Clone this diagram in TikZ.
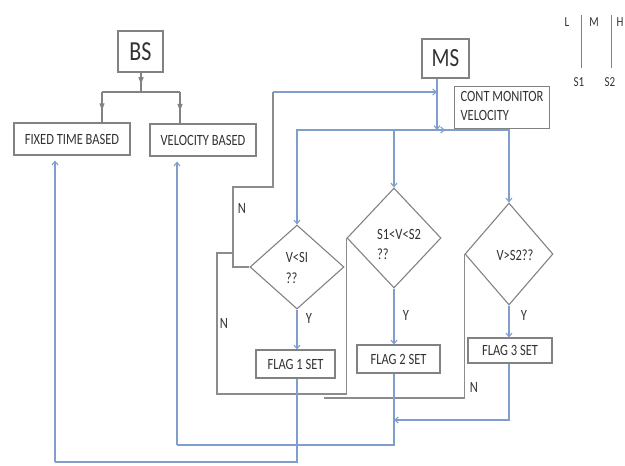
\documentclass[tikz,border=0pt]{standalone}
\usepackage{fontspec}
\setmainfont{Carlito}
\usetikzlibrary{shapes.geometric,arrows.meta,decorations.markings}
\newcommand{\vt}[1]{\scalebox{1}[1.25]{#1}}
\definecolor{flowc}{RGB}{128,158,204}
\definecolor{boxc}{RGB}{130,130,130}
\definecolor{loopc}{RGB}{140,140,140}
\definecolor{txtc}{RGB}{50,50,50}
\begin{document}
\begin{tikzpicture}[x=1pt,y=-1pt,
  box/.style={draw=boxc, line width=1.1pt, inner sep=0pt, text=txtc, font=\fontsize{12.5}{15}\selectfont},
  dia/.style={diamond, draw=boxc, line width=1.1pt, inner sep=0pt, text=txtc, font=\fontsize{12.5}{15}\selectfont},
  lbl/.style={inner sep=0pt, text=txtc, font=\fontsize{12.5}{15}\selectfont},
  flow/.style={draw=flowc, line width=1.1pt},
  nline/.style={draw=loopc, line width=1.1pt},
  gline/.style={draw=boxc, line width=1.1pt},
  arr/.style={-{Straight Barb[length=3.5pt,width=6pt]}},
  midarrow/.style={postaction={decorate}, decoration={markings, mark=at position 0.6 with {\arrow{Triangle[open,length=7pt,width=5pt]}}}}
]
\useasboundingbox (0,0) rectangle (625,466);

% ---- BS part
\node[box, minimum width=45pt, minimum height=41pt, font=\fontsize{22}{26}\selectfont] (BS) at (140.5,51.5) {\vt{BS}};
\node[box, minimum width=116pt, minimum height=32pt] (FIX) at (72,139) {\vt{FIXED TIME BASED}};
\node[box, minimum width=106pt, minimum height=32pt] (VEL) at (203,140) {\vt{VELOCITY BASED}};
\coordinate (bj) at (141,92);
\coordinate (bl) at (102,92);
\coordinate (br) at (180,92);
\draw[gline, midarrow] (BS.south -| bj) -- (bj);
\draw[gline] (bl) -- (br);
\draw[gline, midarrow] (bl) -- (bl |- FIX.north);
\draw[gline, midarrow] (br) -- (br |- VEL.north);

% ---- MS part
\node[box, minimum width=47pt, minimum height=39pt, font=\fontsize{21}{25}\selectfont] (MS) at (445.5,58.5) {\vt{MS}};
\node[box, minimum width=95pt, minimum height=35pt, align=left, inner sep=2pt] (CM) at (502,107.5)
  {\vt{\begin{tabular}{@{}l@{}}CONT MONITOR\\VELOCITY\end{tabular}}};
\coordinate (j) at (437,130);
\coordinate (mj) at (437,92);
\draw[flow, arr] (MS.south -| j) -- (j);
\draw[flow, arr] (j) -- ++(8,0);

% ---- diamonds
\node[dia, minimum width=94pt, minimum height=84pt] (D1) at (297,267) {};
\node[lbl, align=left] (D1t) at (297,269) {\vt{\begin{tabular}{@{}l@{}}V<SI\\[2pt]??\end{tabular}}};
\node[dia, minimum width=94pt, minimum height=100pt] (D2) at (394,238) {};
\node[lbl, align=left] (D2t) at (399,246) {\vt{\begin{tabular}{@{}l@{}}S1<V<S2\\[1pt]??\end{tabular}}};
\node[dia, minimum width=88pt, minimum height=102pt] (D3) at (509,254) {};
\node[lbl] (D3t) at (515,255) {\vt{V>S2??}};

\draw[flow] (D1.north |- j) -- (D3.north |- j);
\draw[flow, arr] (j) -| (D1.north);
\draw[flow, arr] (D2.north |- j) -- (D2.north);
\draw[flow, arr] (j) -| (D3.north);

% ---- flags
\node[box, minimum width=79pt, minimum height=28pt] (F1) at (295.5,364) {\vt{FLAG 1 SET}};
\node[box, minimum width=83pt, minimum height=28pt] (F2) at (398.5,359) {\vt{FLAG 2 SET}};
\node[box, minimum width=84pt, minimum height=25pt] (F3) at (510,350.5) {\vt{FLAG 3 SET}};

\draw[flow, arr] (D1.south) -- (D1.south |- F1.north);
\draw[flow, arr] (D2.south) -- (D2.south |- F2.north);
\draw[flow, arr] (D3.south) -- (D3.south |- F3.north);
\node[lbl] (Y1) at (309,318) {\vt{Y}};
\node[lbl] (Y2) at (406,315) {\vt{Y}};
\node[lbl] (Y3) at (524,315) {\vt{Y}};

% ---- N loops
\coordinate (k1) at (233,187);
\coordinate (k2) at (273,92);
\coordinate (k3) at (217,394);
\coordinate (k4) at (233,253);
\coordinate (k5) at (324,398);
\draw[nline] (D1.west) -| (k1) -| (k2);
\draw[flow, arr] (k2) -- (mj);
\draw[nline] (D2.west) |- (k3) |- (k4);
\draw[nline] (D3.west) |- (k5);
\node[lbl] (N1) at (242,208) {\vt{N}};
\node[lbl] (N2) at (224,323) {\vt{N}};
\node[lbl] (N3) at (474,387) {\vt{N}};

% ---- flag outputs
\coordinate (k6) at (55,462);
\coordinate (k7) at (177,445);
\coordinate (k8) at (394,420);
\draw[flow] (D1.south |- F1.south) |- (k6);
\draw[flow, arr, shorten >=5pt] (k6) -- (k6 |- FIX.south);
\draw[flow] (D2.south |- F2.south) |- (k7);
\draw[flow, arr, shorten >=5pt] (k7) -- (k7 |- VEL.south);
\draw[flow, arr] (D3.south |- F3.south) |- (k8);

% ---- legend
\node[lbl, font=\fontsize{11}{13}\selectfont] (L) at (567,22) {\vt{L}};
\node[lbl, font=\fontsize{11}{13}\selectfont] (M) at (594,22) {\vt{M}};
\node[lbl, font=\fontsize{11}{13}\selectfont, anchor=west] (H) at (616.5,22) {\vt{H}};
\coordinate (l1t) at (581,15);
\coordinate (l1b) at (581,68);
\coordinate (l2t) at (611,15);
\coordinate (l2b) at (611,68);
\draw[gline, line width=0.8pt] (l1t) -- (l1b);
\draw[gline, line width=0.8pt] (l2t) -- (l2b);
\node[lbl, font=\fontsize{11}{13}\selectfont] (S1) at (579,82) {\vt{S1}};
\node[lbl, font=\fontsize{11}{13}\selectfont] (S2) at (610,82) {\vt{S2}};
\end{tikzpicture}
\end{document}
